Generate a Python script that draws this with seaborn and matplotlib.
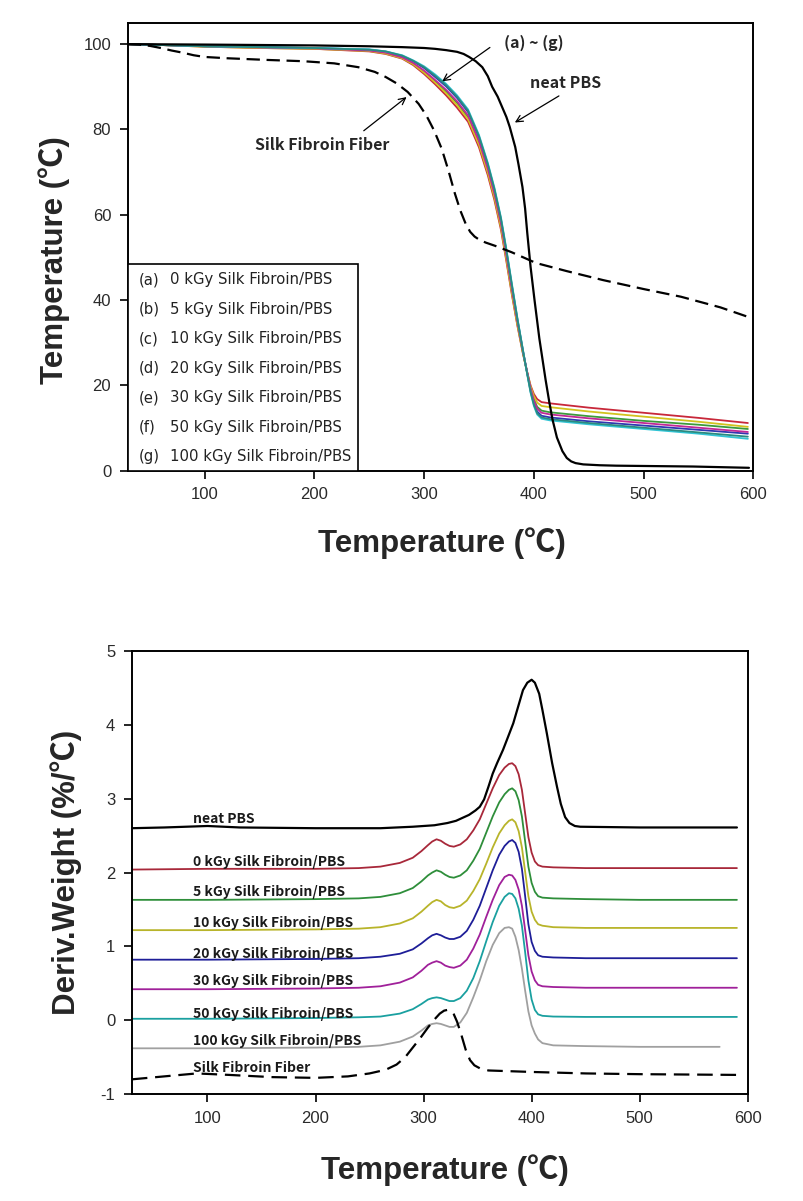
import numpy as np
import pandas as pd
import matplotlib
matplotlib.use("Agg")
import matplotlib.pyplot as plt
from matplotlib.patches import Rectangle
import seaborn as sns

# ---------------- DATA ----------------
# TGA (top panel)
T_pbs = [30, 100, 200, 250, 280, 300, 310, 320, 330, 336, 341, 347, 353, 358, 362, 367, 371,
         375, 378, 383, 386, 389.6, 392, 394, 397, 400.6, 405, 410.7, 414, 417, 421, 426, 430,
         434, 438, 445, 460, 475, 545, 596]
W_pbs = [100, 99.9, 99.7, 99.5, 99.3, 99.1, 98.9, 98.6, 98.2, 97.7, 97.0, 96.0, 94.6, 92.5,
         90.0, 87.7, 85.3, 82.9, 80.6, 75.9, 71.8, 66.5, 61.5, 55.7, 47.8, 40.0, 31.0, 21.3,
         16.2, 12.0, 7.8, 4.6, 3.0, 2.2, 1.8, 1.5, 1.3, 1.2, 1.0, 0.7]

T_fib = [30, 40, 50, 60, 70, 80, 90, 100, 120, 157, 190, 218, 240, 255, 265, 275, 285, 295,
         302, 309, 316, 322, 328, 333, 338, 342, 346, 350, 356, 365, 380, 402, 430, 463, 500,
         534, 570, 596]
W_fib = [100, 99.9, 99.6, 99.1, 98.5, 98.0, 97.4, 97.0, 96.7, 96.3, 96.0, 95.5, 94.6, 93.5,
         92.3, 90.8, 88.8, 86.0, 83.3, 79.8, 75.5, 70.5, 65.0, 61.0, 57.8, 56.0, 54.9, 54.2,
         53.5, 52.7, 51.2, 48.7, 46.8, 44.7, 42.6, 40.8, 38.3, 36.0]

T_comp = [30, 60, 100, 150, 200, 250, 265, 280, 290, 300, 310, 320, 330, 340, 350, 358, 364,
          370, 375, 380, 385, 390, 394, 397, 400, 403, 407, 415, 450, 500, 550, 595]
W_a = [100, 99.8, 99.4, 99.1, 98.9, 98.3, 97.7, 96.6, 95.1, 93.0, 90.6, 88.0, 85.1, 81.8, 75.8,
       69.3, 63.5, 56.5, 49.0, 41.2, 34.0, 27.5, 23.0, 20.0, 18.0, 16.8, 16.1, 15.8, 14.8,
       13.6, 12.4, 11.2]
W_b = [100, 99.8, 99.5, 99.2, 99.0, 98.5, 97.9, 96.8, 95.4, 93.5, 91.3, 88.9, 86.2, 82.8, 76.8,
       70.3, 64.5, 57.5, 50.0, 42.0, 34.6, 27.8, 22.8, 19.3, 16.8, 15.0, 14.1, 13.7, 12.8,
       11.7, 10.8, 9.8]
W_c = [100, 99.8, 99.4, 99.1, 98.9, 98.4, 97.8, 96.7, 95.3, 93.3, 91.0, 88.5, 85.7, 82.4, 76.4,
       69.9, 64.1, 57.0, 49.5, 41.5, 34.2, 27.6, 23.0, 19.8, 17.5, 16.0, 15.2, 14.9, 13.9,
       12.7, 11.5, 10.3]
W_d = [100, 99.8, 99.5, 99.3, 99.1, 98.7, 98.2, 97.2, 96.0, 94.4, 92.3, 90.1, 87.4, 84.1, 78.1,
       71.6, 65.8, 58.8, 51.3, 43.2, 35.4, 28.2, 22.8, 18.8, 15.8, 13.9, 12.9, 12.5, 11.6,
       10.6, 9.6, 8.7]
W_e = [100, 99.8, 99.5, 99.2, 99.0, 98.5, 98.0, 96.9, 95.6, 93.8, 91.6, 89.3, 86.6, 83.3, 77.3,
       70.8, 65.0, 58.0, 50.5, 42.5, 35.0, 28.0, 23.0, 19.3, 16.5, 14.6, 13.6, 13.2, 12.3,
       11.2, 10.1, 9.1]
W_f = [100, 99.8, 99.5, 99.3, 99.1, 98.8, 98.3, 97.4, 96.2, 94.8, 92.9, 90.7, 88.0, 84.7, 78.7,
       72.2, 66.4, 59.4, 51.9, 43.8, 35.8, 28.4, 22.5, 18.3, 15.2, 13.2, 12.2, 11.8, 10.9,
       9.8, 8.7, 7.5]
W_g = [100, 99.8, 99.5, 99.3, 99.1, 98.7, 98.3, 97.3, 96.1, 94.6, 92.6, 90.4, 87.7, 84.4, 78.4,
       71.9, 66.1, 59.1, 51.6, 43.5, 35.6, 28.3, 22.6, 18.5, 15.5, 13.5, 12.5, 12.1, 11.2,
       10.1, 9.0, 8.0]

tga_series = [W_a, W_b, W_c, W_d, W_e, W_f, W_g]
tga_colors = ["#C8283A", "#3C9A3C", "#D2C21E", "#3038B0", "#C02896", "#30C4D4", "#2A8A80"]

legend_tags = ["(a)", "(b)", "(c)", "(d)", "(e)", "(f)", "(g)"]
legend_labels = ["0 kGy Silk Fibroin/PBS", "5 kGy Silk Fibroin/PBS", "10 kGy Silk Fibroin/PBS",
                 "20 kGy Silk Fibroin/PBS", "30 kGy Silk Fibroin/PBS", "50 kGy Silk Fibroin/PBS",
                 "100 kGy Silk Fibroin/PBS"]

# DTG (bottom panel)
T_dpbs = [30, 60, 100, 130, 200, 260, 290, 310, 322, 330, 336, 342, 348, 352, 356, 360, 364,
          368, 373.5, 378, 383, 387, 392, 396, 400, 403, 407, 410, 414, 419, 423.5, 427, 431,
          435, 440, 445, 500, 590]
D_pbs = [2.60, 2.61, 2.63, 2.61, 2.60, 2.60, 2.62, 2.64, 2.67, 2.70, 2.74, 2.78, 2.84, 2.89,
         2.99, 3.16, 3.34, 3.48, 3.66, 3.83, 4.02, 4.22, 4.47, 4.57, 4.61, 4.57, 4.42, 4.20,
         3.89, 3.48, 3.16, 2.93, 2.75, 2.67, 2.63, 2.62, 2.61, 2.61]

T_dc = [30, 100, 200, 240, 260, 278, 290, 298, 304, 308, 312, 316, 320, 324, 328, 334, 340, 346,
        352, 358, 364, 370, 375, 379, 382, 385, 388, 391, 394, 397, 400, 403, 406, 410, 420,
        450, 500, 590]
D_0 = [2.04, 2.05, 2.05, 2.06, 2.08, 2.13, 2.20, 2.29, 2.37, 2.42, 2.45, 2.43, 2.39, 2.36, 2.35,
       2.38, 2.45, 2.57, 2.72, 2.93, 3.14, 3.32, 3.42, 3.47, 3.48, 3.44, 3.33, 3.12, 2.80, 2.48,
       2.27, 2.15, 2.10, 2.08, 2.07, 2.06, 2.06, 2.06]
D_5 = [1.63, 1.63, 1.64, 1.65, 1.67, 1.72, 1.79, 1.88, 1.96, 2.00, 2.03, 2.01, 1.97, 1.94, 1.93,
       1.96, 2.03, 2.16, 2.32, 2.54, 2.76, 2.95, 3.06, 3.12, 3.14, 3.10, 2.98, 2.76, 2.42, 2.08,
       1.86, 1.74, 1.68, 1.66, 1.65, 1.64, 1.63, 1.63]
D_10 = [1.22, 1.22, 1.23, 1.24, 1.26, 1.31, 1.38, 1.47, 1.55, 1.60, 1.63, 1.61, 1.56, 1.53, 1.52,
        1.55, 1.62, 1.75, 1.91, 2.12, 2.34, 2.53, 2.64, 2.70, 2.72, 2.68, 2.56, 2.34, 2.01, 1.68,
        1.47, 1.36, 1.30, 1.28, 1.26, 1.25, 1.25, 1.25]
D_20 = [0.82, 0.82, 0.83, 0.84, 0.86, 0.90, 0.96, 1.04, 1.11, 1.15, 1.17, 1.15, 1.12, 1.10, 1.10,
        1.13, 1.21, 1.36, 1.55, 1.79, 2.03, 2.24, 2.36, 2.42, 2.44, 2.40, 2.28, 2.05, 1.68, 1.30,
        1.06, 0.94, 0.88, 0.86, 0.85, 0.84, 0.84, 0.84]
D_30 = [0.42, 0.42, 0.43, 0.44, 0.46, 0.51, 0.58, 0.67, 0.75, 0.78, 0.80, 0.78, 0.74, 0.72, 0.71,
        0.74, 0.82, 0.97, 1.16, 1.40, 1.63, 1.83, 1.94, 1.97, 1.96, 1.90, 1.77, 1.55, 1.22, 0.88,
        0.66, 0.54, 0.48, 0.46, 0.45, 0.44, 0.44, 0.44]
D_50 = [0.02, 0.02, 0.03, 0.04, 0.05, 0.09, 0.15, 0.22, 0.28, 0.30, 0.31, 0.30, 0.28, 0.26, 0.26,
        0.30, 0.40, 0.57, 0.80, 1.07, 1.33, 1.55, 1.67, 1.72, 1.71, 1.65, 1.51, 1.28, 0.92, 0.54,
        0.28, 0.14, 0.08, 0.06, 0.05, 0.045, 0.045, 0.045]
T_d100 = T_dc[:-1] + [574]
D_100 = [-0.38, -0.38, -0.37, -0.36, -0.34, -0.29, -0.22, -0.14, -0.07, -0.05, -0.04, -0.05,
         -0.07, -0.09, -0.09, -0.03, 0.10, 0.31, 0.54, 0.80, 1.02, 1.18, 1.25, 1.26, 1.24, 1.13,
         0.95, 0.70, 0.40, 0.12, -0.07, -0.18, -0.26, -0.31, -0.34, -0.35, -0.36, -0.36]

T_dfib = [30, 60, 90, 120, 160, 200, 230, 250, 265, 275, 283, 290, 297, 304, 310, 315, 319, 322,
          325, 328, 331, 335, 339, 343, 347, 352, 360, 380, 400, 450, 500, 590]
D_fib = [-0.80, -0.76, -0.72, -0.74, -0.77, -0.78, -0.76, -0.72, -0.67, -0.60, -0.50, -0.37,
         -0.24, -0.10, 0.01, 0.09, 0.13, 0.14, 0.13, 0.08, -0.02, -0.20, -0.40, -0.54, -0.61,
         -0.65, -0.68, -0.69, -0.70, -0.72, -0.73, -0.74]

dtg_series = [D_0, D_5, D_10, D_20, D_30, D_50]
dtg_colors = ["#A8283A", "#2E8E3A", "#B8B42A", "#1E1E98", "#A0209A", "#1AA0A0"]
color_100 = "#A0A0A0"
dtg_labels = ["neat PBS"] + legend_labels + ["Silk Fibroin Fiber"]
dtg_label_y = [2.72, 2.14, 1.73, 1.31, 0.90, 0.53, 0.08, -0.28, -0.65]

# ---------------- STYLE ----------------
sns.set_theme(style="white")
plt.rcParams["font.family"] = ["Liberation Sans", "Noto Sans CJK KR", "DejaVu Sans"]
plt.rcParams["axes.unicode_minus"] = False

fig = plt.figure(figsize=(8.04, 12.01), dpi=100)
ax1 = fig.add_axes([0.159, 0.608, 0.778, 0.373])
ax2 = fig.add_axes([0.164, 0.089, 0.766, 0.369])

label_font = dict(fontsize=22.5, fontweight="bold",
                  family=["Liberation Sans", "Noto Sans CJK KR", "DejaVu Sans"])
ann_font = dict(fontsize=11.5, fontweight="bold",
                family=["Noto Sans CJK KR", "DejaVu Sans"])

# ---------------- TOP: TGA ----------------
for w, c in zip(tga_series, tga_colors):
    sns.lineplot(x=T_comp, y=w, ax=ax1, color=c, lw=1.3, sort=False)
sns.lineplot(x=T_pbs, y=W_pbs, ax=ax1, color="black", lw=1.6, sort=False)
sns.lineplot(x=T_fib, y=W_fib, ax=ax1, color="black", lw=1.6, sort=False)
ax1.lines[-1].set_dashes((6, 3))

ax1.set_xlim(30, 600)
ax1.set_ylim(0, 105)
ax1.set_xticks([100, 200, 300, 400, 500, 600])
ax1.set_yticks([0, 20, 40, 60, 80, 100])
ax1.set_xlabel("Temperature (\u2103)", **label_font)
ax1.set_ylabel("Temperature (\u2103)", **label_font)
ax1.xaxis.set_label_coords(0.502, -0.125)
ax1.yaxis.set_label_coords(-0.093, 0.47)

# annotations
ax1.text(400, 100.3, "(a) ~ (g)", ha="center", va="center", **ann_font)
ax1.annotate("", xy=(314.4, 90.9), xytext=(362, 99.6),
             arrowprops=dict(arrowstyle="->", color="black", lw=0.9))
ax1.text(429, 91, "neat PBS", ha="center", va="center", **ann_font)
ax1.annotate("", xy=(380.5, 81.3), xytext=(425, 88.2),
             arrowprops=dict(arrowstyle="->", color="black", lw=0.9))
ax1.text(207, 76.3, "Silk Fibroin Fiber", ha="center", va="center", **ann_font)
ax1.annotate("", xy=(286, 88), xytext=(243, 79.3),
             arrowprops=dict(arrowstyle="->", color="black", lw=0.9))

# legend box
ax1.add_patch(Rectangle((0, 0), 0.368, 0.462, transform=ax1.transAxes, fill=True,
                        facecolor="white", edgecolor="black", lw=1.2, zorder=5))
for i, (tag, lab) in enumerate(zip(legend_tags, legend_labels)):
    yy = 0.426 - i * 0.0658
    ax1.text(0.0176, yy, tag, transform=ax1.transAxes, fontsize=10.7, va="center",
             family="DejaVu Sans", color="#222222", zorder=6)
    ax1.text(0.067, yy, lab, transform=ax1.transAxes, fontsize=10.7, va="center",
             family="DejaVu Sans", color="#222222", zorder=6)

# ---------------- BOTTOM: DTG ----------------
sns.lineplot(x=T_dpbs, y=D_pbs, ax=ax2, color="black", lw=1.6, sort=False)
for d, c in zip(dtg_series, dtg_colors):
    sns.lineplot(x=T_dc, y=d, ax=ax2, color=c, lw=1.3, sort=False)
sns.lineplot(x=T_d100, y=D_100, ax=ax2, color=color_100, lw=1.3, sort=False)
sns.lineplot(x=T_dfib, y=D_fib, ax=ax2, color="black", lw=1.6, sort=False)
ax2.lines[-1].set_dashes((7, 3.5))

for lab, yv in zip(dtg_labels, dtg_label_y):
    ax2.text(87, yv, lab, ha="left", va="center", fontsize=10, fontweight="bold",
             family=["Noto Sans CJK KR", "DejaVu Sans"], color="#1a1a1a")

ax2.set_xlim(30, 600)
ax2.set_ylim(-1, 5)
ax2.set_xticks([100, 200, 300, 400, 500, 600])
ax2.set_yticks([-1, 0, 1, 2, 3, 4, 5])
ax2.set_xlabel("Temperature (\u2103)", **label_font)
ax2.set_ylabel("Deriv.Weight (%/\u2103)", **label_font)
ax2.xaxis.set_label_coords(0.508, -0.135)
ax2.yaxis.set_label_coords(-0.081, 0.5)

for ax in (ax1, ax2):
    for s in ax.spines.values():
        s.set_visible(True)
        s.set_color("black")
        s.set_linewidth(1.4)
    ax.tick_params(axis="both", which="major", direction="out", length=6, width=1.2,
                   color="black", labelsize=12, labelcolor="#2a2a2a", pad=6,
                   bottom=True, left=True)
    ax.grid(False)

fig.savefig("out.png", dpi=100)
